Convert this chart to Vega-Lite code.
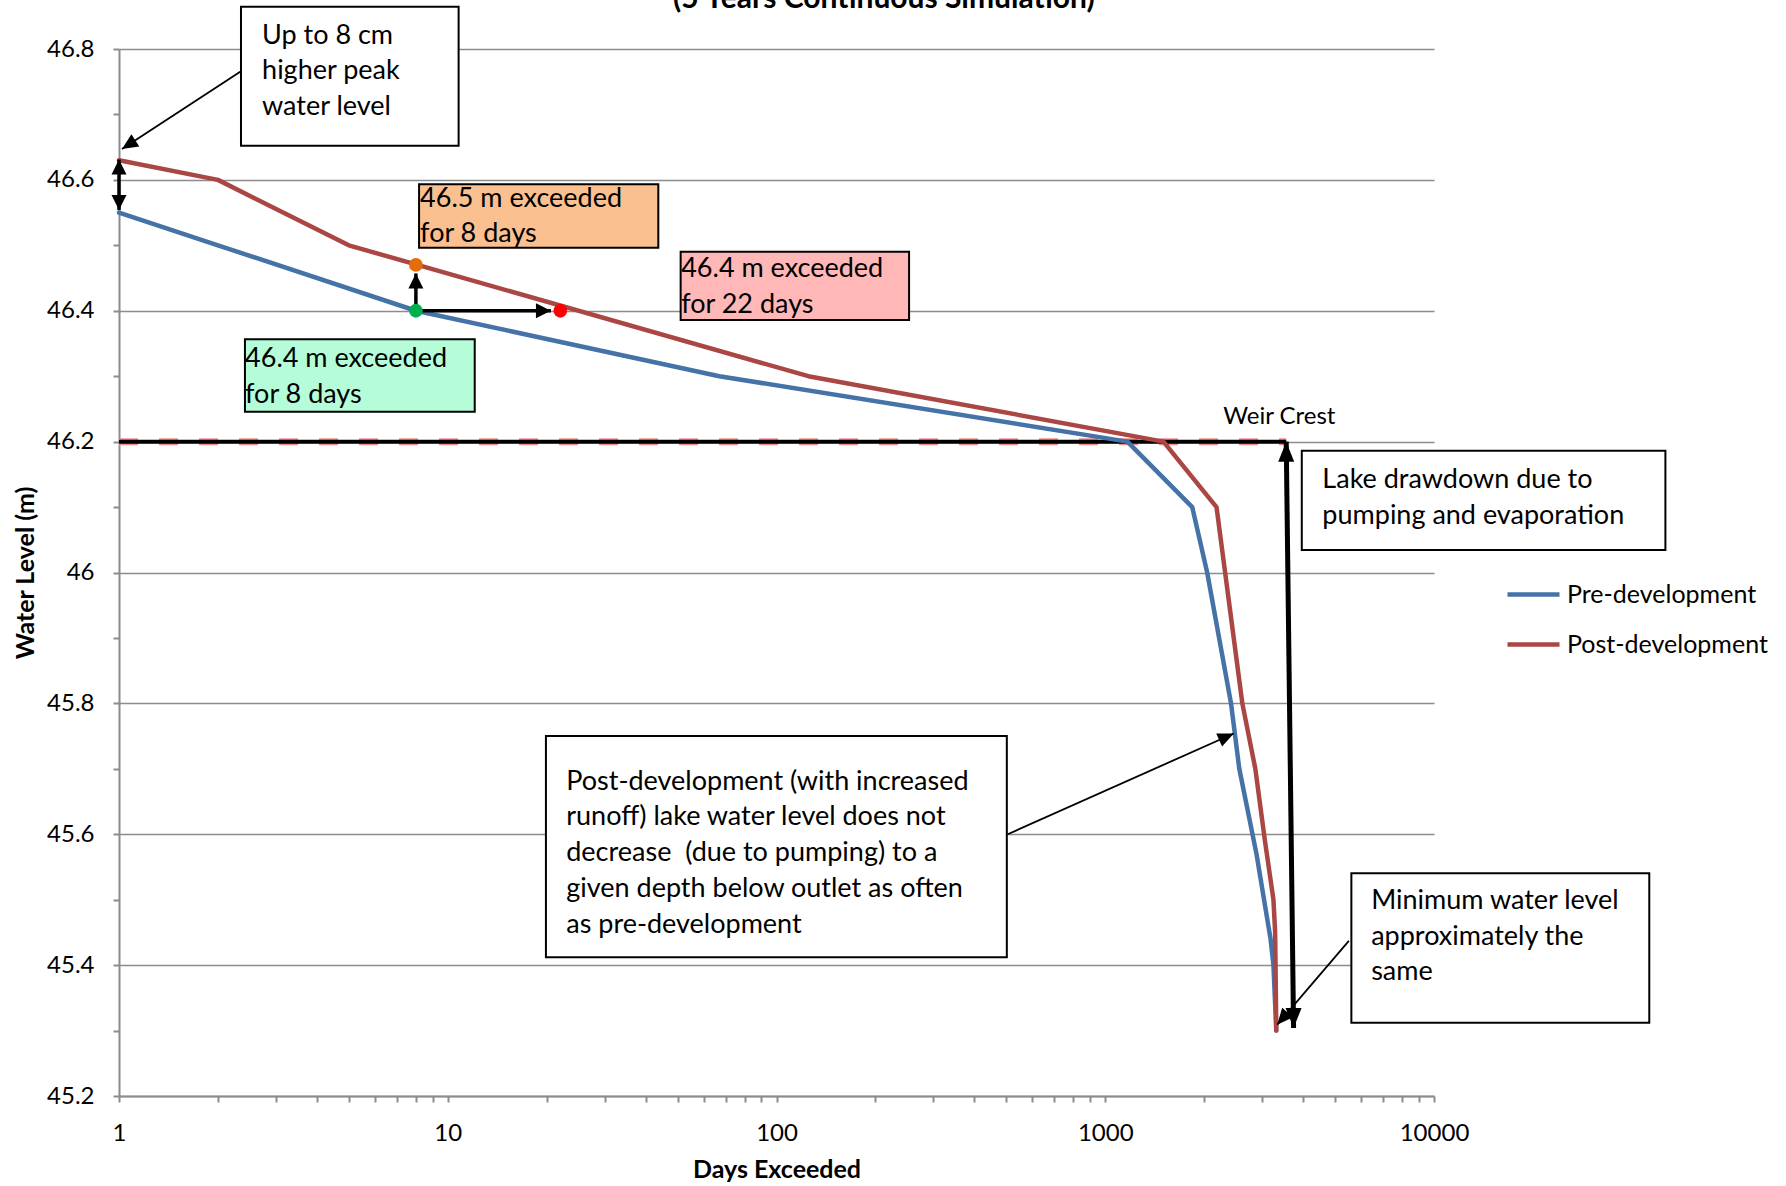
{
  "$schema": "https://vega.github.io/schema/vega-lite/v6.json",
  "width": 1315,
  "height": 1047,
  "autosize": {"type": "none"},
  "padding": {"left": 119, "top": 49, "right": 352, "bottom": 90},
  "background": "white",
  "datasets": {
    "series": [
      {"days": 1, "level": 46.55, "series": "Pre-development"},
      {"days": 2, "level": 46.5, "series": "Pre-development"},
      {"days": 8, "level": 46.4, "series": "Pre-development"},
      {"days": 67, "level": 46.3, "series": "Pre-development"},
      {"days": 1168, "level": 46.2, "series": "Pre-development"},
      {"days": 1839, "level": 46.1, "series": "Pre-development"},
      {"days": 2042, "level": 46.0, "series": "Pre-development"},
      {"days": 2413, "level": 45.8, "series": "Pre-development"},
      {"days": 2557, "level": 45.7, "series": "Pre-development"},
      {"days": 2884, "level": 45.57, "series": "Pre-development"},
      {"days": 3183, "level": 45.44, "series": "Pre-development"},
      {"days": 3248, "level": 45.4, "series": "Pre-development"},
      {"days": 3313, "level": 45.3, "series": "Pre-development"},
      {"days": 1, "level": 46.63, "series": "Post-development"},
      {"days": 2, "level": 46.6, "series": "Post-development"},
      {"days": 5, "level": 46.5, "series": "Post-development"},
      {"days": 125, "level": 46.3, "series": "Post-development"},
      {"days": 1503, "level": 46.2, "series": "Post-development"},
      {"days": 2180, "level": 46.1, "series": "Post-development"},
      {"days": 2612, "level": 45.8, "series": "Post-development"},
      {"days": 2861, "level": 45.7, "series": "Post-development"},
      {"days": 3060, "level": 45.59, "series": "Post-development"},
      {"days": 3248, "level": 45.5, "series": "Post-development"},
      {"days": 3287, "level": 45.45, "series": "Post-development"},
      {"days": 3313, "level": 45.3, "series": "Post-development"}
    ],
    "weir": [
      {"days": 1, "level": 46.2},
      {"days": 3552, "level": 46.2}
    ],
    "dots": [
      {"name": "orange", "days": 8, "level": 46.47},
      {"name": "green", "days": 8, "level": 46.4},
      {"name": "red", "days": 22, "level": 46.4}
    ],
    "boxes": [
      {"name": "up8", "days": 2.35, "days2": 10.79, "level": 46.8646, "level2": 46.6522},
      {"name": "orange", "days": 8.18, "days2": 43.7, "level": 46.5932, "level2": 46.4964},
      {"name": "pink", "days": 51.1, "days2": 253.1, "level": 46.4903, "level2": 46.3859},
      {"name": "green", "days": 2.416, "days2": 12.08, "level": 46.3564, "level2": 46.2458},
      {"name": "drawdown", "days": 3961, "days2": 50570, "level": 46.1862, "level2": 46.0344},
      {"name": "postdev", "days": 19.89, "days2": 501.9, "level": 45.7502, "level2": 45.412},
      {"name": "minimum", "days": 5606, "days2": 45170, "level": 45.5404, "level2": 45.3121}
    ],
    "notes": [
      {"name": "up8", "text": "Up to 8 cm\nhigher peak\nwater level", "days": 2.724, "level": 46.8402},
      {"name": "orange", "text": "46.5 m exceeded\nfor 8 days", "days": 8.24, "level": 46.5911},
      {"name": "pink", "text": "46.4 m exceeded\nfor 22 days", "days": 51.3, "level": 46.4831},
      {"name": "green", "text": "46.4 m exceeded\nfor 8 days", "days": 2.418, "level": 46.3461},
      {"name": "drawdown", "text": "Lake drawdown due to\npumping and evaporation", "days": 4575, "level": 46.1612},
      {"name": "postdev", "text": "Post-development (with increased\nrunoff) lake water level does not\ndecrease \u00a0(due to pumping) to a\ngiven depth below outlet as often\nas pre-development", "days": 22.93, "level": 45.7002},
      {"name": "minimum", "text": "Minimum water level\napproximately the\nsame", "days": 6440, "level": 45.5183}
    ],
    "labels": [
      {"name": "weir", "text": "Weir Crest", "days": 3385, "level": 46.227},
      {"name": "title", "text": "(5 Years Continuous Simulation)", "days": 212.1, "level": 46.8626}
    ],
    "arrows": [
      {"name": "A", "days": 2.35, "level": 46.766, "days2": 1.021, "level2": 46.647},
      {"name": "F", "days": 505, "level": 45.6, "days2": 2460, "level2": 45.754},
      {"name": "G", "days": 5508, "level": 45.437, "days2": 3335, "level2": 45.309},
      {"name": "B", "days": 1, "level": 46.631, "days2": 1, "level2": 46.554},
      {"name": "C", "days": 8, "level": 46.4, "days2": 8, "level2": 46.457},
      {"name": "D", "days": 8, "level": 46.4, "days2": 20.6, "level2": 46.4},
      {"name": "E", "days": 3552, "level": 46.2, "days2": 3740, "level2": 45.304}
    ],
    "heads": [
      {"name": "A", "days": 1.021, "level": 46.647},
      {"name": "Btop", "days": 1, "level": 46.631},
      {"name": "Bbottom", "days": 1, "level": 46.554},
      {"name": "C", "days": 8, "level": 46.457},
      {"name": "D", "days": 20.6, "level": 46.4},
      {"name": "Etop", "days": 3552, "level": 46.2},
      {"name": "Ebottom", "days": 3740, "level": 45.304},
      {"name": "F", "days": 2460, "level": 45.754},
      {"name": "G", "days": 3335, "level": 45.309}
    ]
  },
  "encoding": {
    "x": {
      "field": "days",
      "type": "quantitative",
      "scale": {"type": "log", "domain": [1, 10000], "nice": false},
      "axis": {
        "title": "Days Exceeded",
        "values": [1,2,3,4,5,6,7,8,9,10,20,30,40,50,60,70,80,90,100,200,300,400,500,600,700,800,900,1000,2000,3000,4000,5000,6000,7000,8000,9000,10000],
        "labelExpr": "indexof([1,10,100,1000,10000], datum.value) >= 0 ? format(datum.value, 'd') : ''",
        "grid": false,
        "labelFlush": false,
        "labelOverlap": false,
        "titleY": 73,
        "titleBaseline": "middle"
      }
    },
    "y": {
      "field": "level",
      "type": "quantitative",
      "scale": {"domain": [45.2, 46.8], "nice": false, "zero": false},
      "axis": {
        "title": "Water Level (m)",
        "values": [45.2,45.3,45.4,45.5,45.6,45.7,45.8,45.9,46,46.1,46.2,46.3,46.4,46.5,46.6,46.7,46.8],
        "labelExpr": "round(datum.value*10) % 2 == 0 ? format(datum.value, '~g') : ''",
        "grid": true,
        "gridOpacity": {"condition": {"test": "round(datum.value*10) % 2 == 0", "value": 1}, "value": 0},
        "labelFlush": false,
        "labelOverlap": false,
        "titleX": -94,
        "titleY": 523.5,
        "titleBaseline": "middle"
      }
    }
  },
  "layer": [
    {
      "data": {"name": "weir"},
      "mark": {"type": "line", "color": "#F28C8C", "strokeWidth": 7, "strokeDash": [19, 21]},
      "encoding": {}
    },
    {
      "data": {"name": "weir"},
      "mark": {"type": "line", "color": "#000000", "strokeWidth": 4},
      "encoding": {}
    },
    {
      "data": {"name": "series"},
      "mark": {"type": "line", "strokeWidth": 4.5, "strokeCap": "round", "strokeJoin": "round"},
      "encoding": {
        "color": {
          "field": "series",
          "type": "nominal",
          "scale": {"domain": ["Pre-development", "Post-development"], "range": ["#4572A7", "#AA4643"]},
          "legend": {
            "title": null,
            "orient": "none",
            "legendX": 1386,
            "legendY": 517,
            "symbolType": "stroke",
            "symbolSize": 2704,
            "symbolStrokeWidth": 4.5,
            "labelFontSize": 25,
            "labelFont": "Lato",
            "labelColor": "#000000",
            "labelLimit": 0,
            "labelOffset": 5,
            "rowPadding": 8,
            "padding": 0
          }
        }
      }
    },
    {
      "data": {"name": "boxes"},
      "transform": [{"filter": "indexof(['up8','drawdown','postdev','minimum'], datum.name) >= 0"}],
      "mark": {"type": "rect", "fill": "#FFFFFF", "stroke": "#000000", "strokeWidth": 2},
      "encoding": {"x2": {"field": "days2"}, "y2": {"field": "level2"}}
    },
    {
      "data": {"name": "boxes"},
      "transform": [{"filter": "datum.name == 'orange'"}],
      "mark": {"type": "rect", "fill": "#FAC08F", "stroke": "#000000", "strokeWidth": 2},
      "encoding": {"x2": {"field": "days2"}, "y2": {"field": "level2"}}
    },
    {
      "data": {"name": "boxes"},
      "transform": [{"filter": "datum.name == 'pink'"}],
      "mark": {"type": "rect", "fill": "#FFB7B7", "stroke": "#000000", "strokeWidth": 2},
      "encoding": {"x2": {"field": "days2"}, "y2": {"field": "level2"}}
    },
    {
      "data": {"name": "boxes"},
      "transform": [{"filter": "datum.name == 'green'"}],
      "mark": {"type": "rect", "fill": "#B5FDD8", "stroke": "#000000", "strokeWidth": 2},
      "encoding": {"x2": {"field": "days2"}, "y2": {"field": "level2"}}
    },
    {
      "data": {"name": "notes"},
      "mark": {"type": "text", "align": "left", "baseline": "top", "font": "Lato", "fontSize": 27, "lineHeight": 35.8, "lineBreak": "\n", "color": "#000000"},
      "encoding": {"text": {"field": "text"}}
    },
    {
      "data": {"name": "labels"},
      "transform": [{"filter": "datum.name == 'weir'"}],
      "mark": {"type": "text", "align": "center", "baseline": "alphabetic", "font": "Lato", "fontSize": 24, "color": "#000000"},
      "encoding": {"text": {"field": "text"}}
    },
    {
      "data": {"name": "labels"},
      "transform": [{"filter": "datum.name == 'title'"}],
      "mark": {"type": "text", "align": "center", "baseline": "alphabetic", "font": "Lato", "fontSize": 30, "fontWeight": "bold", "color": "#000000"},
      "encoding": {"text": {"field": "text"}}
    },
    {
      "data": {"name": "arrows"},
      "transform": [{"filter": "indexof(['A','F','G'], datum.name) >= 0"}],
      "mark": {"type": "rule", "color": "#000000", "strokeWidth": 1.8},
      "encoding": {"x2": {"field": "days2"}, "y2": {"field": "level2"}}
    },
    {
      "data": {"name": "arrows"},
      "transform": [{"filter": "indexof(['B','C','D'], datum.name) >= 0"}],
      "mark": {"type": "rule", "color": "#000000", "strokeWidth": 3.5},
      "encoding": {"x2": {"field": "days2"}, "y2": {"field": "level2"}}
    },
    {
      "data": {"name": "arrows"},
      "transform": [{"filter": "datum.name == 'E'"}],
      "mark": {"type": "rule", "color": "#000000", "strokeWidth": 5},
      "encoding": {"x2": {"field": "days2"}, "y2": {"field": "level2"}}
    },
    {
      "data": {"name": "heads"},
      "transform": [{"filter": "datum.name == 'Btop' || datum.name == 'C'"}],
      "mark": {"type": "point", "shape": "M0,0L1,2L-1,2Z", "filled": true, "color": "#000000", "opacity": 1, "size": 225, "angle": 0},
      "encoding": {}
    },
    {
      "data": {"name": "heads"},
      "transform": [{"filter": "datum.name == 'Bbottom'"}],
      "mark": {"type": "point", "shape": "M0,0L1,2L-1,2Z", "filled": true, "color": "#000000", "opacity": 1, "size": 225, "angle": 180},
      "encoding": {}
    },
    {
      "data": {"name": "heads"},
      "transform": [{"filter": "datum.name == 'D'"}],
      "mark": {"type": "point", "shape": "M0,0L1,2L-1,2Z", "filled": true, "color": "#000000", "opacity": 1, "size": 225, "angle": 90},
      "encoding": {}
    },
    {
      "data": {"name": "heads"},
      "transform": [{"filter": "datum.name == 'A'"}],
      "mark": {"type": "point", "shape": "M0,0L0.9,2L-0.9,2Z", "filled": true, "color": "#000000", "opacity": 1, "size": 256, "angle": 236.8},
      "encoding": {}
    },
    {
      "data": {"name": "heads"},
      "transform": [{"filter": "datum.name == 'F'"}],
      "mark": {"type": "point", "shape": "M0,0L0.9,2L-0.9,2Z", "filled": true, "color": "#000000", "opacity": 1, "size": 256, "angle": 65.9},
      "encoding": {}
    },
    {
      "data": {"name": "heads"},
      "transform": [{"filter": "datum.name == 'G'"}],
      "mark": {"type": "point", "shape": "M0,0L0.9,2L-0.9,2Z", "filled": true, "color": "#000000", "opacity": 1, "size": 256, "angle": 220.6},
      "encoding": {}
    },
    {
      "data": {"name": "heads"},
      "transform": [{"filter": "datum.name == 'Etop'"}],
      "mark": {"type": "point", "shape": "M0,0L0.8,2L-0.8,2Z", "filled": true, "color": "#000000", "opacity": 1, "size": 400, "angle": 0},
      "encoding": {}
    },
    {
      "data": {"name": "heads"},
      "transform": [{"filter": "datum.name == 'Ebottom'"}],
      "mark": {"type": "point", "shape": "M0,0L0.8,2L-0.8,2Z", "filled": true, "color": "#000000", "opacity": 1, "size": 400, "angle": 180},
      "encoding": {}
    },
    {
      "data": {"name": "dots"},
      "transform": [{"filter": "datum.name == 'orange'"}],
      "mark": {"type": "circle", "color": "#E46C0A", "opacity": 1, "size": 190},
      "encoding": {}
    },
    {
      "data": {"name": "dots"},
      "transform": [{"filter": "datum.name == 'green'"}],
      "mark": {"type": "circle", "color": "#00B050", "opacity": 1, "size": 190},
      "encoding": {}
    },
    {
      "data": {"name": "dots"},
      "transform": [{"filter": "datum.name == 'red'"}],
      "mark": {"type": "circle", "color": "#FF0000", "opacity": 1, "size": 190},
      "encoding": {}
    }
  ],
  "config": {
    "font": "Lato",
    "view": {"stroke": null},
    "axis": {
      "labelFont": "Lato",
      "titleFont": "Lato",
      "labelColor": "#000000",
      "titleColor": "#000000",
      "labelFontSize": 24,
      "titleFontSize": 25,
      "titleFontWeight": "bold",
      "domainColor": "#8C8C8C",
      "domainWidth": 2,
      "tickColor": "#8C8C8C",
      "tickWidth": 2,
      "tickSize": 6,
      "gridColor": "#8C8C8C",
      "gridWidth": 1.5,
      "labelPadding": 19
    }
  }
}
